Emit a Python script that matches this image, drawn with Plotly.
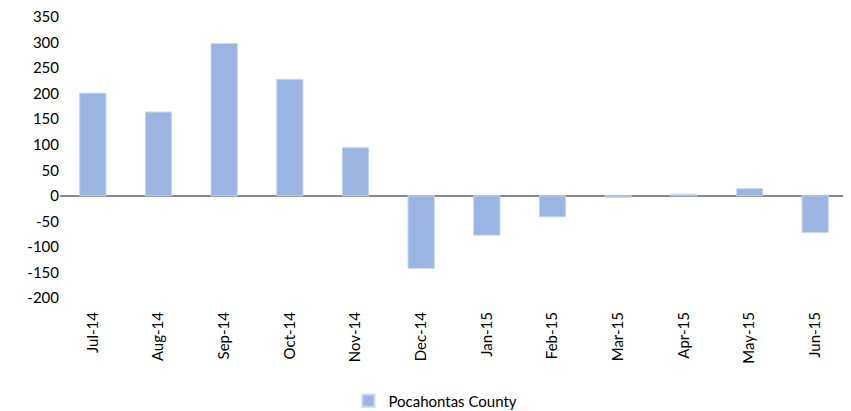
import plotly.graph_objects as go

months = ["Jul-14", "Aug-14", "Sep-14", "Oct-14", "Nov-14", "Dec-14",
          "Jan-15", "Feb-15", "Mar-15", "Apr-15", "May-15", "Jun-15"]
values = [201, 164, 298, 228, 94, -142, -77, -41, -3, 3, 14, -72]
series_name = "Pocahontas County"
y_ticks = [-200, -150, -100, -50, 0, 50, 100, 150, 200, 250, 300, 350]

fig = go.Figure()
fig.add_trace(go.Bar(
    x=months, y=values, name=series_name,
    marker=dict(color="#9bb5e3", line=dict(color="#c7d6f0", width=1)),
    showlegend=True,
))

font_family = "Lato, Open Sans, sans-serif"
fig.update_layout(
    width=843, height=403,
    margin=dict(l=52, r=3, t=9, b=113, autoexpand=False),
    paper_bgcolor="white", plot_bgcolor="white",
    bargap=0.6,
    font=dict(family=font_family, size=15, color="#000000"),
    showlegend=True,
    legend=dict(orientation="h", x=0.507, xanchor="center", xref="container",
                y=0.025, yanchor="middle", yref="container",
                font=dict(size=15), itemsizing="constant"),
    xaxis=dict(type="category", tickangle=-90, showline=False, ticks="",
               showgrid=False, tickfont=dict(size=15), automargin=False,
               ticklabelstandoff=10),
    yaxis=dict(range=[-200, 350], tickvals=y_ticks,
               ticktext=[str(v) for v in y_ticks], showgrid=False,
               zeroline=True, zerolinecolor="#898989", zerolinewidth=2,
               showline=False, ticks="", tickfont=dict(size=15), automargin=False,
               ticklabeloverflow="allow"),
)

fig.write_html("out.html")
